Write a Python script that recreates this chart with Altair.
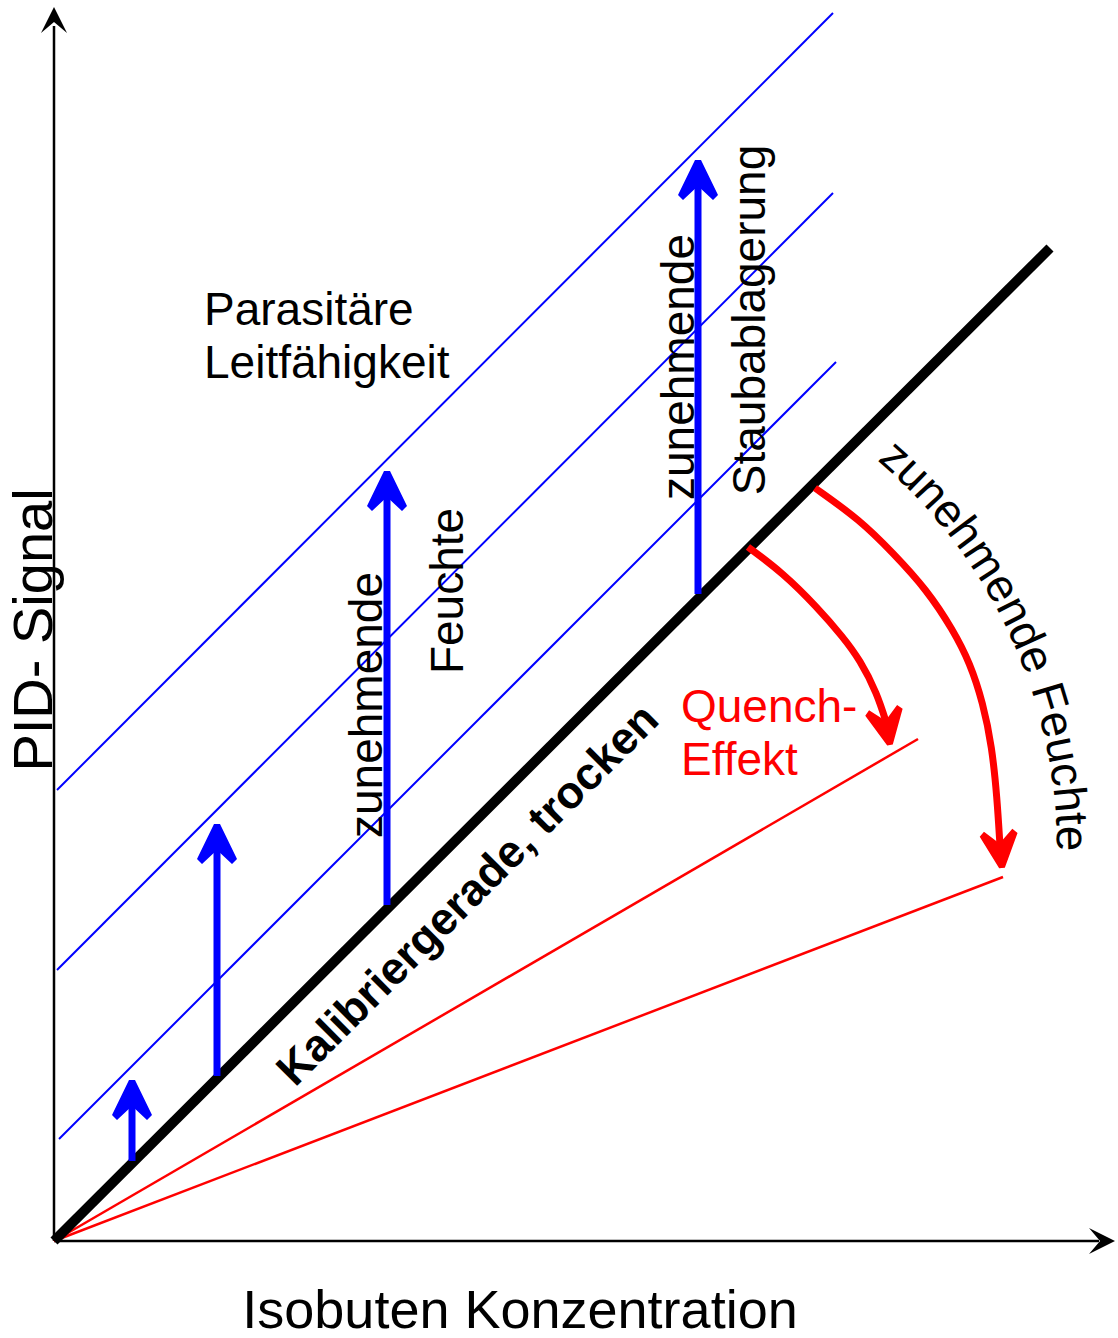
import math
import altair as alt
import pandas as pd

# ---------------------------------------------------------------
# Schematic coordinates: u = Isobuten-Konzentration, v = PID-Signal
# (origin of the diagram at u = 0, v = 0)
# ---------------------------------------------------------------
X_DOMAIN = [-54, 1064]
Y_DOMAIN = [-97, 1241]

# axes (end of axis line) and arrow tips
axis_x_end = 1045
axis_y_end = 1215
axis_x_tip = 1061
axis_y_tip = 1234

# calibration line, dry
calib_u = [0, 996]
calib_v = [0, 993]

# thin blue lines (parasitic conductivity)
blue_u1 = [3, 3, 5]
blue_v1 = [451, 271, 102]
blue_u2 = [779, 779, 782]
blue_v2 = [1228, 1048, 879]

# red lines (quench effect with increasing humidity)
red_u2 = [864, 949]
red_v2 = [502, 364]

# vertical blue arrows
arrow_u = [78, 163, 333, 644]
arrow_base = [80, 165, 336, 647]
arrow_tip = [161, 417, 770, 1081]

# curved red arrows
quench_u = [694, 729, 763, 789, 806, 823, 833]
quench_v = [694, 668, 634, 604, 581, 548, 516]
quench_tip = (836, 496, 169.5)
humid_u = [761, 806, 839, 873, 899, 916, 929, 938, 943, 946]
humid_v = [753, 721, 688, 651, 611, 578, 538, 494, 444, 395]
humid_tip = (948, 373, 174.2)

# labels
label_x_axis = "Isobuten Konzentration"
label_y_axis = "PID- Signal"
label_parasit = ["Parasitäre", "Leitfähigkeit"]
label_quench = ["Quench-", "Effekt"]
label_calib = "Kalibriergerade, trocken"
vertical_labels = ["zunehmende", "Feuchte", "zunehmende", "Staubablagerung"]
vertical_u = [328, 409, 640, 711]
vertical_v = [536, 650, 874, 921]
arc_label = "zunehmende Feuchte"

FONT = "Liberation Sans"
BLUE = "#0000FF"
RED = "#FF0000"
BLACK = "#000000"

HEAD = "M-0.15,-1 L0.15,-1 L1,0.75 L0.75,1 L0,0.3 L-0.75,1 L-1,0.75 Z"
AXHEAD = "M0,-1 L1,1 L0,0.15 L-1,1 Z"

xs = alt.Scale(domain=X_DOMAIN, nice=False, zero=False)
ys = alt.Scale(domain=Y_DOMAIN, nice=False, zero=False)


def X(f):
    return alt.X(f, type="quantitative", scale=xs, axis=None)


def Y(f):
    return alt.Y(f, type="quantitative", scale=ys, axis=None)


# ---------------- segments ----------------
seg_rows = []
seg_rows.append(dict(u1=0, v1=0, u2=0, v2=axis_y_end, c=BLACK, w=2.5))
seg_rows.append(dict(u1=0, v1=0, u2=axis_x_end, v2=0, c=BLACK, w=2.5))
for a, b, c, d in zip(blue_u1, blue_v1, blue_u2, blue_v2):
    seg_rows.append(dict(u1=a, v1=b, u2=c, v2=d, c=BLUE, w=2))
for c, d in zip(red_u2, red_v2):
    seg_rows.append(dict(u1=0, v1=0, u2=c, v2=d, c=RED, w=2.5))
seg_rows.append(dict(u1=calib_u[0], v1=calib_v[0], u2=calib_u[1], v2=calib_v[1], c=BLACK, w=10))
for u, b, t in zip(arrow_u, arrow_base, arrow_tip):
    seg_rows.append(dict(u1=u, v1=b, u2=u, v2=t - 22, c=BLUE, w=7))
seg = pd.DataFrame(seg_rows)

segments = alt.Chart(seg).mark_rule(strokeCap="butt").encode(
    x=X("u1"), y=Y("v1"), x2="u2", y2="v2",
    color=alt.Color("c:N", scale=None),
    strokeWidth=alt.StrokeWidth("w:Q", scale=None),
)

# ---------------- curved red arrows ----------------
crv_rows = []
for i, (u, v) in enumerate(zip(quench_u, quench_v)):
    crv_rows.append(dict(id="q", i=i, u=u, v=v))
for i, (u, v) in enumerate(zip(humid_u, humid_v)):
    crv_rows.append(dict(id="h", i=i, u=u, v=v))
crv = pd.DataFrame(crv_rows)
curves = alt.Chart(crv).mark_line(
    interpolate="basis", strokeWidth=7, color=RED, strokeCap="butt"
).encode(x=X("u"), y=Y("v"), detail="id:N", order="i:Q")

# ---------------- arrow heads ----------------
head_rows = []
for u, t in zip(arrow_u, arrow_tip):
    head_rows.append(dict(u=u, v=t - 20, a=0, c=BLUE, s=1600))
for (tu, tv, ang) in (quench_tip, humid_tip):
    r = math.radians(ang)
    head_rows.append(dict(u=tu - 19 * math.sin(r), v=tv - 19 * math.cos(r), a=ang, c=RED, s=1444))
heads = alt.Chart(pd.DataFrame(head_rows)).mark_point(
    shape=HEAD, filled=True, opacity=1, strokeWidth=0
).encode(
    x=X("u"), y=Y("v"),
    angle=alt.Angle("a:Q", scale=None),
    color=alt.Color("c:N", scale=None),
    size=alt.Size("s:Q", scale=None),
)

ax_heads = alt.Chart(pd.DataFrame([
    dict(u=0, v=axis_y_tip - 13, a=0),
    dict(u=axis_x_tip - 13, v=0, a=90),
])).mark_point(
    shape=AXHEAD, filled=True, opacity=1, strokeWidth=0, size=676, color=BLACK
).encode(x=X("u"), y=Y("v"), angle=alt.Angle("a:Q", scale=None))

# ---------------- texts ----------------
def one(u, v):
    return pd.DataFrame({"u": [u], "v": [v]})


t_xaxis = alt.Chart(one(466, -87)).mark_text(
    text=label_x_axis, font=FONT, fontSize=54, align="center", baseline="alphabetic", color=BLACK
).encode(x=X("u"), y=Y("v"))

t_yaxis = alt.Chart(one(-2, 611)).mark_text(
    text=label_y_axis, font=FONT, fontSize=56, align="center", baseline="alphabetic",
    angle=270, color=BLACK
).encode(x=X("u"), y=Y("v"))

t_parasit = alt.Chart(one(150, 916)).mark_text(
    text=label_parasit, font=FONT, fontSize=46, lineHeight=53, align="left",
    baseline="alphabetic", color=BLACK
).encode(x=X("u"), y=Y("v"))

t_quench = alt.Chart(one(627, 519)).mark_text(
    text=label_quench, font=FONT, fontSize=46, lineHeight=53, align="left",
    baseline="alphabetic", color=RED
).encode(x=X("u"), y=Y("v"))

t_calib = alt.Chart(one(424, 336)).mark_text(
    text=label_calib, font=FONT, fontSize=45, fontWeight="bold", align="center",
    baseline="alphabetic", angle=315, color=BLACK
).encode(x=X("u"), y=Y("v"))

t_vert = alt.Chart(pd.DataFrame({"t": vertical_labels, "u": vertical_u, "v": vertical_v})).mark_text(
    font=FONT, fontSize=46, align="center", baseline="alphabetic", angle=270, color=BLACK
).encode(x=X("u"), y=Y("v"), text="t:N")

# text along an arc (layout: character advance along circle)
ADV = {"z": .5, "u": .556, "n": .556, "e": .556, "h": .556, "m": .833, "d": .556,
       " ": .278, "F": .611, "c": .5, "t": .278}
ARC_CU, ARC_CV, ARC_R, ARC_START = 491, 391, 512, -49.6
FS = 46
cum = 0.0
arc_rows = []
for i, ch in enumerate(arc_label):
    w = ADV.get(ch, .556) * FS
    s = cum + w / 2
    phi = math.radians(ARC_START) + s / ARC_R
    arc_rows.append(dict(i=i, ch=ch,
                         u=ARC_CU + ARC_R * math.cos(phi),
                         v=ARC_CV - ARC_R * math.sin(phi),
                         a=math.degrees(phi) + 90))
    cum += w
arc_df = pd.DataFrame(arc_rows)
arc_df = arc_df[arc_df.ch != " "]
t_arc = alt.Chart(arc_df).mark_text(
    font=FONT, fontSize=FS, align="center", baseline="alphabetic", color=BLACK
).encode(x=X("u"), y=Y("v"), text="ch:N", angle=alt.Angle("a:Q", scale=None))

chart = alt.layer(
    segments, curves, heads, ax_heads,
    t_xaxis, t_yaxis, t_parasit, t_quench, t_calib, t_vert, t_arc,
).properties(
    width=1118, height=1338,
    autosize=alt.AutoSizeParams(type="none"),
    padding=0,
).configure_view(strokeWidth=0)

chart.save("out.html", embed_options={"renderer": "svg", "actions": False})
